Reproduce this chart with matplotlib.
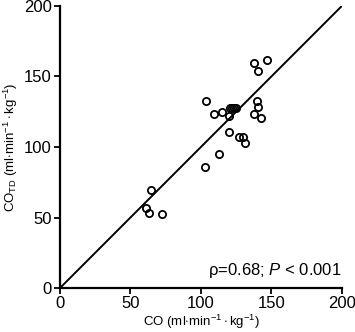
import matplotlib as mpl
import numpy as np
import matplotlib.pyplot as plt

mpl.rcParams['font.family'] = ['Liberation Sans', 'DejaVu Sans']
mpl.rcParams['mathtext.fontset'] = 'custom'
mpl.rcParams['mathtext.rm'] = 'Liberation Sans'
mpl.rcParams['mathtext.it'] = 'Liberation Sans:italic'

# CO vs CO_TD (ml/min/kg)
co = [103.8, 109.2, 114.9, 119.6, 120.5, 122.0, 123.5, 125.0,
      137.8, 147.2, 140.8, 139.9, 140.4, 137.5, 142.3,
      119.8, 126.7, 130.2, 131.6, 112.7, 103.1,
      64.9, 61.3, 62.8, 72.4]
co_td = [132.4, 123.6, 125.0, 122.2, 127.5, 127.5, 127.5, 127.5,
         159.4, 161.7, 153.7, 132.4, 128.6, 123.6, 120.3,
         110.6, 107.3, 107.3, 102.6, 95.0, 86.0,
         69.5, 56.5, 53.0, 52.3]
ticks = [0, 50, 100, 150, 200]

fig = plt.figure(figsize=(3.55, 3.32), dpi=100)
ax = fig.add_axes([0.169, 0.1325, 0.794, 0.8495])

ax.plot([0, 200], [0, 200], color='black', lw=1.4, zorder=1)
ax.plot(co, co_td, 'o', mfc='none', mec='black', ms=5.2, mew=1.3, zorder=2)

ax.set_xlim(0, 200)
ax.set_ylim(0, 200)
ax.set_xticks(ticks)
ax.set_yticks(ticks)
ax.tick_params(labelsize=12, length=4, width=1.3, direction='out', pad=2)
for s in ['top', 'right']:
    ax.spines[s].set_visible(False)
for s in ['left', 'bottom']:
    ax.spines[s].set_linewidth(1.6)

ax.set_xlabel(r'CO (ml$\cdot$min$^{-1}\cdot$kg$^{-1}$)', fontsize=9.5, labelpad=1)
ax.set_ylabel(r'CO$_{\rm TD}$ (ml$\cdot$min$^{-1}\cdot$kg$^{-1}$)', fontsize=9.5, labelpad=3)

ax.text(200, 6, r'ρ=0.68; $\it{P}$ < 0.001', ha='right', va='bottom', fontsize=12)

plt.savefig('out.png', dpi=100)
